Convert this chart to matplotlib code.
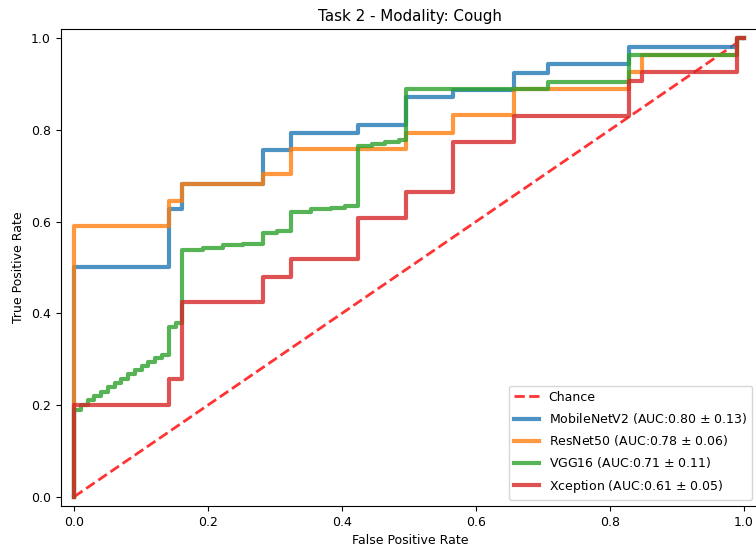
import matplotlib
matplotlib.use("Agg")
import matplotlib.pyplot as plt

# mean ROC curves, one point per jump (drawn as steps-post)
mobilenet_fpr = [0, 0, 0.1414, 0.1616, 0.2828, 0.3232, 0.4242, 0.4949, 0.5657,
                 0.6566, 0.7071, 0.8283, 0.9899, 1.0]
mobilenet_tpr = [0, 0.500, 0.627, 0.683, 0.756, 0.793, 0.810, 0.871, 0.888,
                 0.925, 0.944, 0.980, 1.0, 1.0]

resnet_fpr = [0, 0, 0.1414, 0.1616, 0.2828, 0.3232, 0.4949, 0.5657, 0.6566,
              0.8283, 0.8485, 0.9899, 1.0]
resnet_tpr = [0, 0.590, 0.646, 0.683, 0.704, 0.758, 0.793, 0.832, 0.889,
              0.927, 0.963, 1.0, 1.0]

vgg_fpr = [0, 0, 0.0101, 0.0202, 0.0303, 0.0404, 0.0505, 0.0606, 0.0707, 0.0808,
           0.0909, 0.1010, 0.1111, 0.1212, 0.1313, 0.1414, 0.1515, 0.1616,
           0.1919, 0.2222, 0.2525, 0.2828, 0.3030, 0.3232, 0.3535, 0.3838,
           0.4040, 0.4242, 0.4444, 0.4646, 0.4848, 0.4949, 0.7071, 0.8283,
           0.9899, 1.0]
vgg_tpr = [0, 0.190, 0.200, 0.211, 0.220, 0.229, 0.239, 0.248, 0.256, 0.268,
           0.277, 0.285, 0.294, 0.302, 0.309, 0.371, 0.379, 0.538,
           0.543, 0.548, 0.552, 0.575, 0.580, 0.620, 0.627, 0.630,
           0.634, 0.765, 0.769, 0.773, 0.777, 0.889, 0.905, 0.963,
           1.0, 1.0]

xception_fpr = [0, 0, 0.1414, 0.1616, 0.2828, 0.3232, 0.4242, 0.4949, 0.5657,
                0.6566, 0.8283, 0.8485, 0.9899, 1.0]
xception_tpr = [0, 0.200, 0.257, 0.425, 0.479, 0.518, 0.607, 0.664, 0.774,
                0.830, 0.907, 0.927, 1.0, 1.0]

models = ["MobileNetV2", "ResNet50", "VGG16", "Xception"]
auc_mean = [0.80, 0.78, 0.71, 0.61]
auc_std = [0.13, 0.06, 0.11, 0.05]
colors = ["tab:blue", "tab:orange", "tab:green", "tab:red"]

curves = [(mobilenet_fpr, mobilenet_tpr), (resnet_fpr, resnet_tpr),
          (vgg_fpr, vgg_tpr), (xception_fpr, xception_tpr)]

fig = plt.figure(figsize=(7.56, 5.46), dpi=100)
# right edge sits just past the canvas
ax = fig.add_axes([0.0802, 0.0733, 0.9251, 0.8736])

fs = 9
ax.plot([0, 1], [0, 1], linestyle="--", lw=2, color="r", label="Chance", alpha=.8)
for name, m, s, c, (fpr, tpr) in zip(models, auc_mean, auc_std, colors, curves):
    ax.plot(fpr, tpr, drawstyle="steps-post", color=c, lw=3, alpha=.8,
            label=r"%s (AUC:%0.2f $\pm$ %0.2f)" % (name, m, s))

ax.set_xlim(-0.02, 1.024)
ax.set_ylim(-0.02, 1.02)
ax.set_xticks([0, 0.2, 0.4, 0.6, 0.8, 1.0])
ax.set_yticks([0, 0.2, 0.4, 0.6, 0.8, 1.0])
ax.tick_params(labelsize=fs)
ax.set_xlabel("False Positive Rate", fontsize=fs)
ax.set_ylabel("True Positive Rate", fontsize=fs)
ax.set_title("Task 2 - Modality: Cough", fontsize=10.9)
ax.legend(loc="lower right", fontsize=fs, bbox_to_anchor=(0.9975, 0.0),
          labelspacing=0.58)

fig.savefig("out.png", dpi=100)
